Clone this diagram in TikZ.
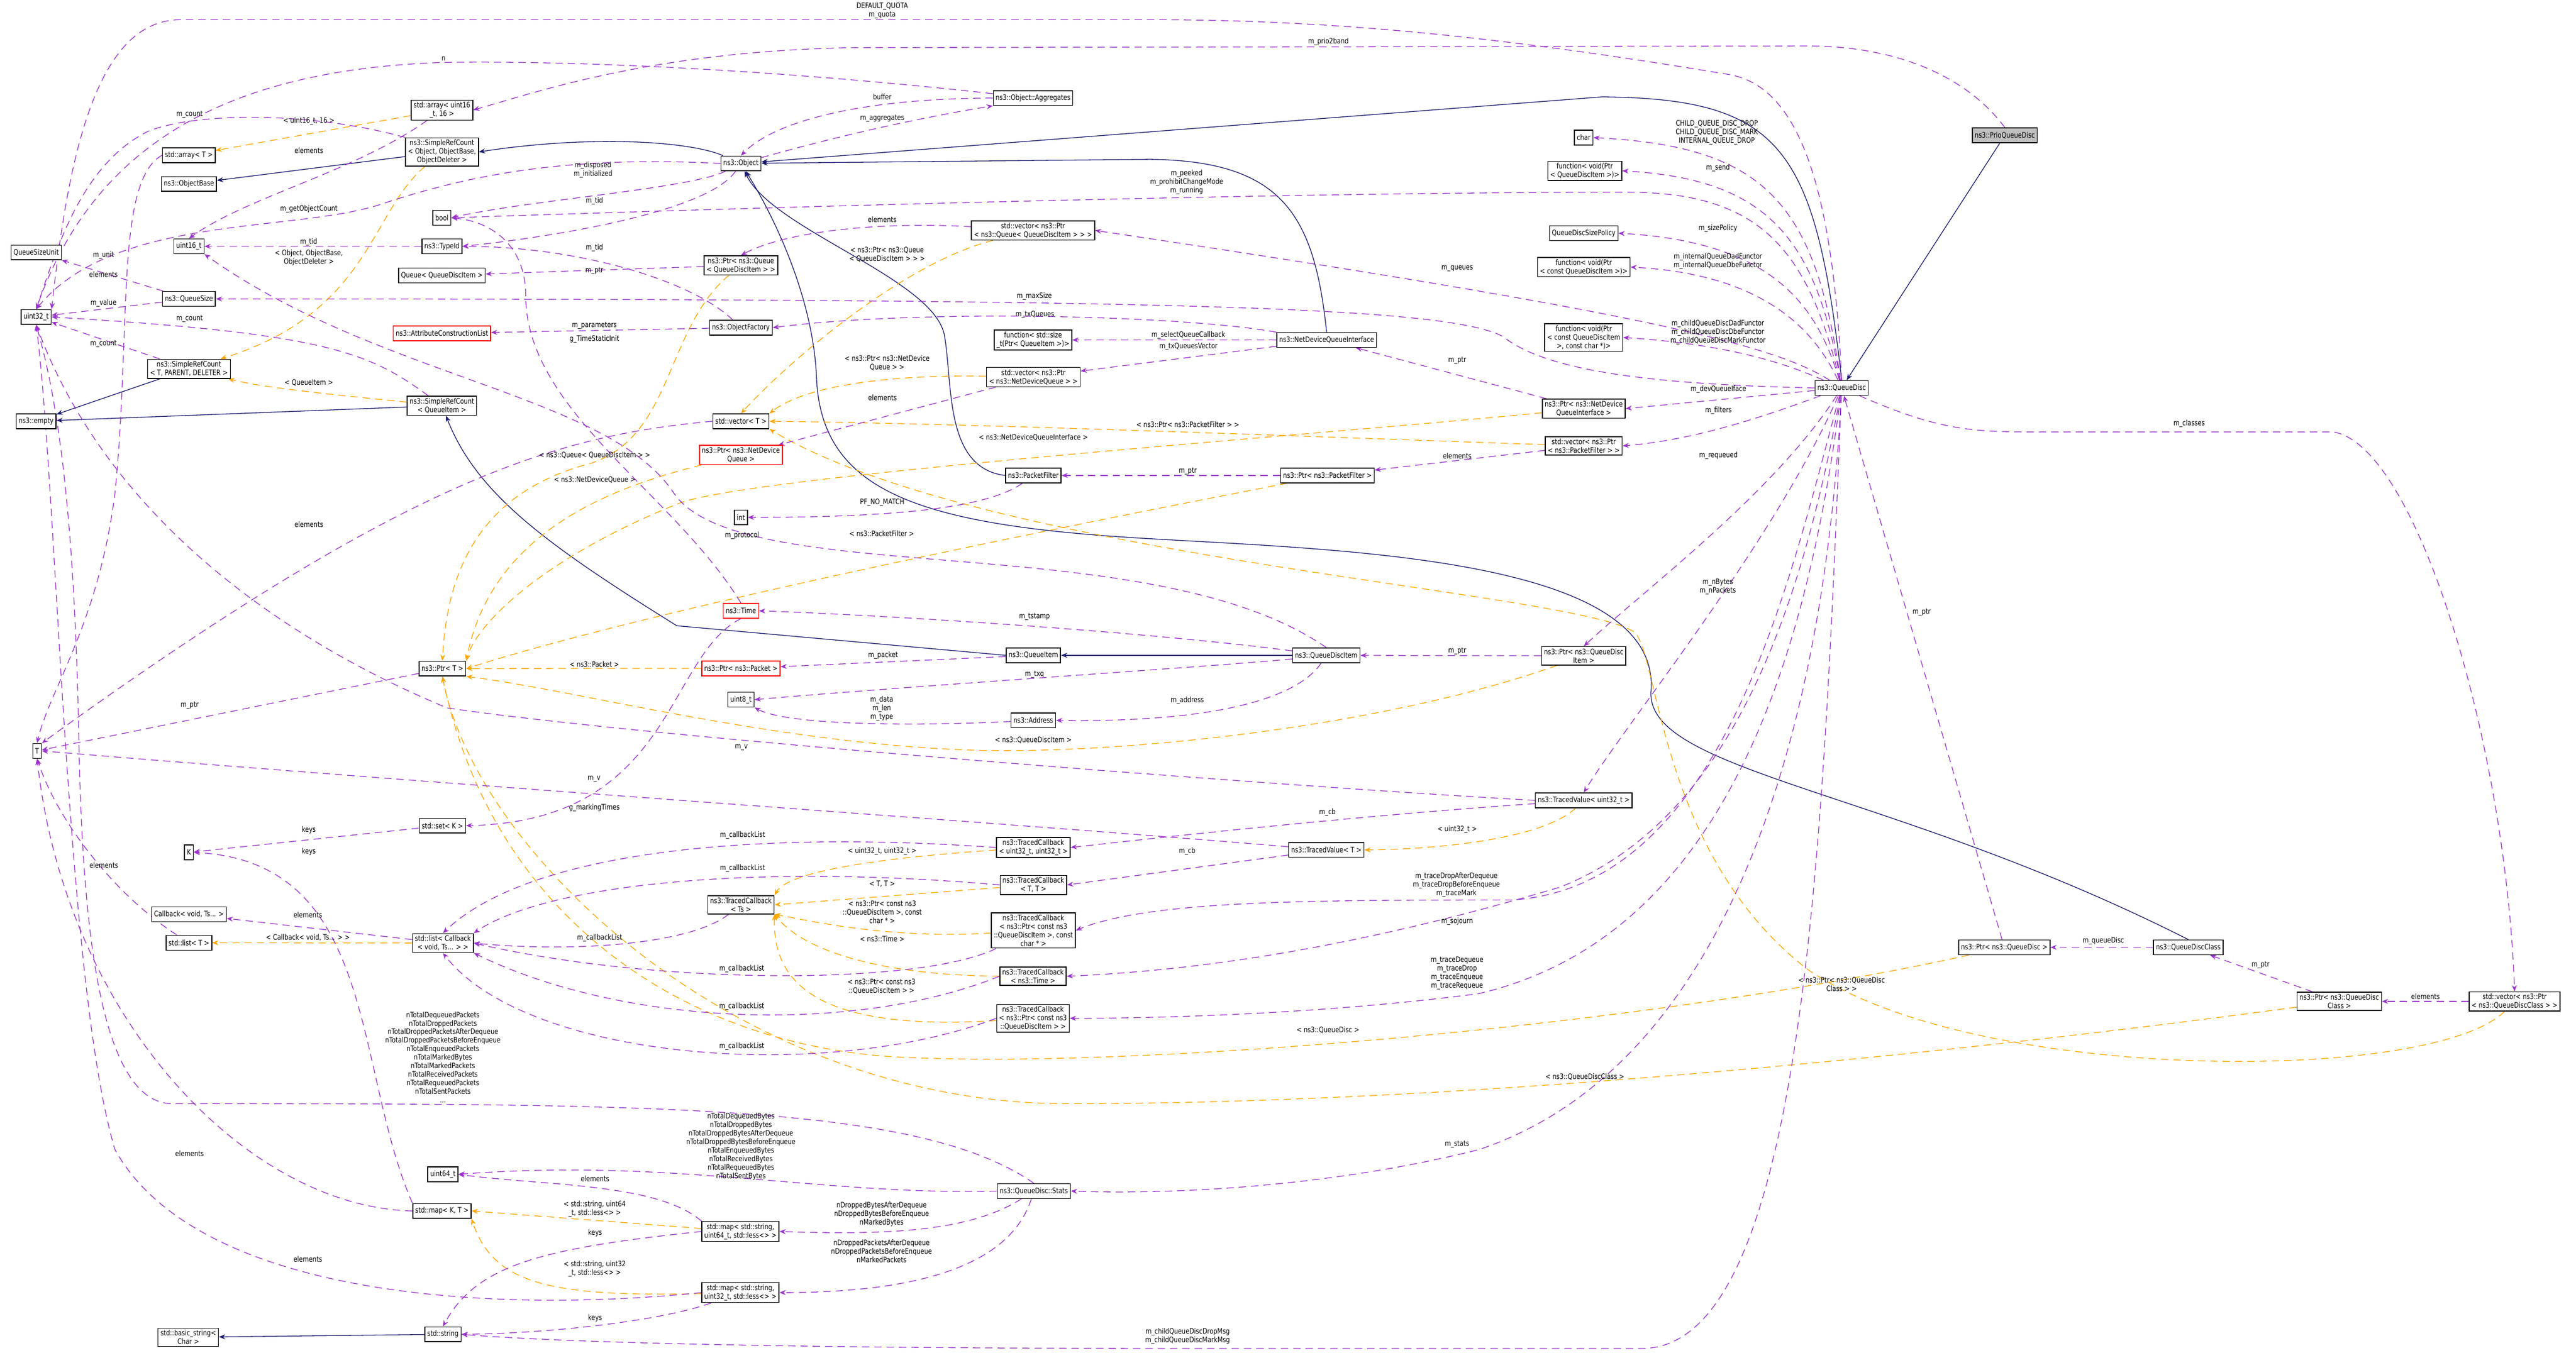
\documentclass[tikz,border=0pt]{standalone}
\usepackage{fontspec}
\setmainfont{DejaVu Sans}[FakeStretch=0.82]
\usetikzlibrary{arrows.meta}
\definecolor{use}{HTML}{9A32CD}
\definecolor{tpl}{HTML}{FFA500}
\definecolor{inh}{HTML}{191970}
\pgfdeclarelayer{edges}
\pgfsetlayers{edges,main}
\begin{document}
\begin{tikzpicture}[x=0.1cm,y=-0.1cm,
  every node/.style={font=\fontsize{13}{14.8}\selectfont},
  box/.style={draw=black,line width=0.05cm,fill=white,align=center,inner xsep=0.15cm,inner ysep=0.12cm,minimum height=0.9cm},
  redbox/.style={box,draw=red},
  lbl/.style={align=center,inner sep=0pt},
  usee/.style={draw=use,line width=0.045cm,dash pattern=on 0.45cm off 0.3cm,-{Stealth[length=0.38cm,width=0.3cm]}},
  tmpl/.style={draw=tpl,line width=0.045cm,dash pattern=on 0.45cm off 0.3cm,-{Stealth[length=0.38cm,width=0.3cm]}},
  inhe/.style={draw=inh,line width=0.045cm,-{Stealth[length=0.38cm,width=0.3cm]}}]
\useasboundingbox (0,0) rectangle (1568,823.5);
% ---------------- nodes
\node[box,fill={rgb,255:red,191;green,191;blue,191}] (prio) at (1220.3,82.4) {ns3::PrioQueueDisc};
\node[box] (qd) at (1121,236.2) {ns3::QueueDisc};
\node[box] (obj) at (451,99.5) {ns3::Object};
\node[box] (srco) at (269,92.5) {ns3::SimpleRefCount\\< Object, ObjectBase,\\ObjectDeleter >};
\node[box] (arr16) at (269,67) {std::array< uint16\\\_t, 16 >};
\node[box] (arrT) at (115,94.5) {std::array< T >};
\node[box] (objb) at (115,112) {ns3::ObjectBase};
\node[box] (agg) at (628.8,59.7) {ns3::Object::Aggregates};
\node[box] (bool) at (269,132.6) {bool};
\node[box] (u16) at (115,150) {uint16\_t};
\node[box] (tid) at (269,150) {ns3::TypeId};
\node[box] (qsu) at (22,153.7) {QueueSizeUnit};
\node[box] (qqdi) at (269,167.7) {Queue< QueueDiscItem >};
\node[box] (pq) at (451,161.5) {ns3::Ptr< ns3::Queue\\< QueueDiscItem > >};
\node[box] (qs) at (115,182) {ns3::QueueSize};
\node[box] (u32) at (22,193) {uint32\_t};
\node[box] (of) at (451,199.5) {ns3::ObjectFactory};
\node[redbox] (acl) at (269,203) {ns3::AttributeConstructionList};
\node[box] (srct) at (115,224.6) {ns3::SimpleRefCount\\< T, PARENT, DELETER >};
\node[box] (srcq) at (269,247) {ns3::SimpleRefCount\\< QueueItem >};
\node[box] (empty) at (22,256.5) {ns3::empty};
\node[box] (vecT) at (451,256.5) {std::vector< T >};
\node[redbox] (pndq) at (451,277) {ns3::Ptr< ns3::NetDevice\\Queue >};
\node[box] (int) at (451,315) {int};
\node[box] (pf) at (629,289.5) {ns3::PacketFilter};
\node[box] (ppf) at (808,289.5) {ns3::Ptr< ns3::PacketFilter >};
\node[box] (char) at (964,83.8) {char};
\node[box] (fsend) at (964.6,104) {function< void(Ptr\\< QueueDiscItem >)>};
\node[box] (vpq) at (628.8,140.3) {std::vector< ns3::Ptr\\< ns3::Queue< QueueDiscItem > > >};
\node[box] (qdsp) at (964,142) {QueueDiscSizePolicy};
\node[box] (fdad) at (964,162.6) {function< void(Ptr\\< const QueueDiscItem >)>};
\node[box] (fsize) at (628.8,207) {function< std::size\\\_t(Ptr< QueueItem >)>};
\node[box] (ndqi) at (807.5,207) {ns3::NetDeviceQueueInterface};
\node[box] (fchild) at (964,205.5) {function< void(Ptr\\< const QueueDiscItem\\>, const char *)>};
\node[box] (vndq) at (629,229.6) {std::vector< ns3::Ptr\\< ns3::NetDeviceQueue > >};
\node[box] (pndqi) at (964,248.8) {ns3::Ptr< ns3::NetDevice\\QueueInterface >};
\node[box] (vpf) at (964,271.5) {std::vector< ns3::Ptr\\< ns3::PacketFilter > >};
\node[redbox] (time) at (451,371.9) {ns3::Time};
\node[box] (qi) at (629,399) {ns3::QueueItem};
\node[box] (qdi) at (807.3,399) {ns3::QueueDiscItem};
\node[box] (pqdi) at (964,399.3) {ns3::Ptr< ns3::QueueDisc\\Item >};
\node[redbox] (ppkt) at (451,407) {ns3::Ptr< ns3::Packet >};
\node[box] (ptrT) at (269.3,407.1) {ns3::Ptr< T >};
\node[box] (u8) at (451,426) {uint8\_t};
\node[box] (addr) at (629,438.6) {ns3::Address};
\node[box] (T) at (22.6,457.2) {T};
\node[box] (tvu) at (964,487.3) {ns3::TracedValue< uint32\_t >};
\node[box] (setK) at (269.3,502.7) {std::set< K >};
\node[box] (tcu) at (629,516) {ns3::TracedCallback\\< uint32\_t, uint32\_t >};
\node[box] (tvT) at (807.3,517.5) {ns3::TracedValue< T >};
\node[box] (K) at (115,519) {K};
\node[box] (tcTT) at (629,538.8) {ns3::TracedCallback\\< T, T >};
\node[box] (tcTs) at (451,550.9) {ns3::TracedCallback\\< Ts >};
\node[box] (cb) at (115,556.6) {Callback< void, Ts... >};
\node[box] (tcpc) at (629,566.5) {ns3::TracedCallback\\< ns3::Ptr< const ns3\\::QueueDiscItem >, const\\char * >};
\node[box] (listT) at (115,574) {std::list< T >};
\node[box] (listcb) at (269.6,574.2) {std::list< Callback\\< void, Ts... > >};
\node[box] (pqd) at (1220,576.8) {ns3::Ptr< ns3::QueueDisc >};
\node[box] (qdc) at (1332,576.8) {ns3::QueueDiscClass};
\node[box] (tctime) at (628.8,594.4) {ns3::TracedCallback\\< ns3::Time >};
\node[box] (pqdc) at (1423.9,609.7) {ns3::Ptr< ns3::QueueDisc\\Class >};
\node[box] (vqdc) at (1530.6,609.7) {std::vector< ns3::Ptr\\< ns3::QueueDiscClass > >};
\node[box] (tcp) at (628.8,620) {ns3::TracedCallback\\< ns3::Ptr< const ns3\\::QueueDiscItem > >};
\node[box] (u64) at (269.6,715) {uint64\_t};
\node[box] (stats) at (629.3,725.2) {ns3::QueueDisc::Stats};
\node[box] (mapKT) at (269,737.3) {std::map< K, T >};
\node[box] (m64) at (450.7,749.8) {std::map< std::string,\\uint64\_t, std::less<> >};
\node[box] (m32) at (450.7,787) {std::map< std::string,\\uint32\_t, std::less<> >};
\node[box] (bstr) at (114.6,814.2) {std::basic\_string<\\Char >};
\node[box] (str) at (269.6,812.4) {std::string};
\begin{pgfonlayer}{edges}
% ---------------- inheritance
\draw[inhe] (prio) -- (qd);
\draw[inhe] (qd.north) .. controls (1105,90) and (1085,60) .. (975,59) -- (obj);
\draw[inhe] (ndqi.north) .. controls (800,130) and (780,98) .. (700,97) -- (obj);
\draw[inhe] (pf.west) .. controls (575,285) and (580,235) .. (575,205) .. controls (570,170) and (470,140) .. (obj);
\draw[inhe] (qdc.north) .. controls (1150,480) and (1000,470) .. (1005,420) .. controls (1010,340) and (820,335) .. (700,328) .. controls (560,320) and (500,300) .. (497,230) .. controls (495,180) and (470,130) .. (obj);
\draw[inhe] (qi.west) -- (412,381) .. controls (330,330) and (290,300) .. (srcq);
\draw[inhe] (qdi) -- (qi);
\draw[inhe] (srcq) -- (empty);
\draw[inhe] (srct) -- (empty);
\draw[inhe] (srco) -- (objb);
\draw[inhe] (obj) .. controls (420,86) and (360,82) .. (srco.east);
\draw[inhe] (str) -- (bstr);
% ---------------- template instantiation
\draw[tmpl] (arr16) -- (arrT);
\draw[tmpl] (srco) .. controls (225,130) and (225,190) .. (srct);
\draw[tmpl] (srcq) .. controls (200,240) and (160,236) .. (srct);
\draw[tmpl] (pq) .. controls (405,200) and (410,265) .. (360,282) .. controls (290,300) and (272,350) .. (ptrT.north);
\draw[tmpl] (pndq) .. controls (380,295) and (300,320) .. (ptrT.north east);
\draw[tmpl] (pndqi) .. controls (800,265) and (450,290) .. (412,307) .. controls (330,340) and (290,380) .. (ptrT.north east);
\draw[tmpl] (ppf) .. controls (650,320) and (400,370) .. (ptrT.east);
\draw[tmpl] (ppkt) -- (ptrT);
\draw[tmpl] (pqdi) .. controls (850,440) and (700,458) .. (603,457) .. controls (480,455) and (350,420) .. (ptrT.south east);
\draw[tmpl] (pqd) .. controls (1000,625) and (700,650) .. (556,644) .. controls (420,640) and (300,560) .. (ptrT.south);
\draw[tmpl] (pqdc) .. controls (1200,640) and (900,672) .. (650,672) .. controls (450,672) and (290,520) .. (ptrT.south);
\draw[tmpl] (vpq) .. controls (550,160) and (480,220) .. (vecT.north);
\draw[tmpl] (vndq) .. controls (540,228) and (490,235) .. (vecT.north east);
\draw[tmpl] (vpf) .. controls (800,266) and (600,258) .. (vecT.east);
\draw[tmpl] (vqdc) .. controls (1480,660) and (1200,660) .. (1100,590) .. controls (1010,520) and (1010,400) .. (995,385) .. controls (960,360) and (600,340) .. (vecT.south east);
\draw[tmpl] (tvu) .. controls (940,510) and (880,517) .. (tvT.east);
\draw[tmpl] (tcu) .. controls (540,522) and (480,530) .. (tcTs.north east);
\draw[tmpl] (tcTT) -- (tcTs.east);
\draw[tmpl] (tcpc) .. controls (540,572) and (490,560) .. (tcTs.south east);
\draw[tmpl] (tctime) .. controls (540,594) and (490,580) .. (tcTs.south east);
\draw[tmpl] (tcp) .. controls (500,628) and (470,600) .. (tcTs.south east);
\draw[tmpl] (listcb) -- (listT);
\draw[tmpl] (m64) -- (mapKT.east);
\draw[tmpl] (m32) .. controls (330,790) and (300,780) .. (mapKT.south east);
% ---------------- usage
\draw[usee] (qd) .. controls (1105,124) and (1075,89) .. (char.east);
\draw[usee] (qd) .. controls (1105,144) and (1075,109) .. (fsend.east);
\draw[usee] (qd) .. controls (1100,150) and (1070,117) .. (990,117) .. controls (800,117) and (500,125) .. (bool.east);
\draw[usee] (qd) .. controls (1105,182) and (1075,147) .. (qdsp.east);
\draw[usee] (qd) .. controls (1105,202) and (1075,167) .. (fdad.east);
\draw[usee] (qd) .. controls (1080,210) and (1000,190) .. (vpq.east);
\draw[usee] (qd.west) .. controls (1000,234) and (940,225) .. (915,205) .. controls (880,186) and (700,182) .. (qs.east);
\draw[usee] (qd) .. controls (1095,225) and (1060,210) .. (fchild.east);
\draw[usee] (qd) -- (pndqi.east);
\draw[usee] (qd) .. controls (1070,255) and (1030,268) .. (vpf.east);
\draw[usee] (qd) .. controls (1080,300) and (1000,360) .. (pqdi.north);
\draw[usee] (qd) .. controls (1080,330) and (990,440) .. (tvu.north);
\draw[usee] (pqd) -- (qd);
\draw[usee] (qd) .. controls (1180,262) and (1200,263) .. (1240,263) -- (1420,263) .. controls (1470,270) and (1525,450) .. (vqdc.north);
\draw[usee] (qd) .. controls (1090,350) and (1050,540) .. (920,548) .. controls (800,548) and (700,548) .. (tcpc.east);
\draw[usee] (qd) .. controls (1095,380) and (1050,500) .. (950,540) .. controls (850,570) and (750,590) .. (tctime.east);
\draw[usee] (qd) .. controls (1100,400) and (1050,570) .. (900,605) .. controls (800,618) and (700,620) .. (tcp.east);
\draw[usee] (qd) .. controls (1110,450) and (1050,650) .. (900,700) .. controls (800,725) and (700,727) .. (stats.east);
\draw[usee] (qd) .. controls (1110,500) and (1100,820) .. (1000,821) -- (720,821) .. controls (500,821) and (350,818) .. (str.east);
\draw[usee] (qd.north) .. controls (1115,100) and (1090,50) .. (1050,45) .. controls (900,20) and (800,12) .. (700,12) -- (110,12) .. controls (60,12) and (42,90) .. (u32.north east);
\draw[usee] (agg) .. controls (450,40) and (330,37) .. (270,38) .. controls (150,42) and (60,80) .. (u32.north);
\draw[usee] (prio.north) .. controls (1200,50) and (1160,28) .. (1100,28) -- (520,29) .. controls (400,31) and (330,55) .. (arr16.east);
\draw[usee] (obj) .. controls (520,80) and (570,70) .. (agg.south west);
\draw[usee] (agg.west) .. controls (520,60) and (470,75) .. (obj.north);
\draw[usee] (obj) .. controls (420,115) and (320,122) .. (bool.east);
\draw[usee] (obj) .. controls (430,130) and (330,145) .. (tid.east);
\draw[usee] (obj.west) .. controls (350,95) and (290,105) .. (233,124) .. controls (180,142) and (70,130) .. (u32.north);
\draw[usee] (tid) -- (u16);
\draw[usee] (arr16) .. controls (215,105) and (150,120) .. (u16.north);
\draw[usee] (of) .. controls (420,170) and (350,150) .. (tid.east);
\draw[usee] (pq) -- (qqdi);
\draw[usee] (of) -- (acl);
\draw[usee] (qs) -- (qsu);
\draw[usee] (qs) -- (u32);
\draw[usee] (srct) -- (u32);
\draw[usee] (srcq) .. controls (225,215) and (200,203) .. (u32.east);
\draw[usee] (srco.north west) .. controls (190,68) and (120,68) .. (90,80) .. controls (50,100) and (35,150) .. (u32.north);
\draw[usee] (time.north) .. controls (410,300) and (320,250) .. (320,180) .. controls (320,150) and (300,135) .. (bool.east);
\draw[usee] (time.south) .. controls (405,400) and (410,500) .. (setK.east);
\draw[usee] (qdi.north) .. controls (700,320) and (450,360) .. (410,300) .. controls (370,240) and (230,230) .. (u16.south east);
\draw[usee] (vndq) -- (pndq);
\draw[usee] (vpq) .. controls (540,135) and (480,140) .. (pq.north);
\draw[usee] (ndqi) -- (fsize);
\draw[usee] (ndqi) -- (vndq);
\draw[usee] (ndqi.north west) .. controls (720,192) and (560,188) .. (of.east);
\draw[usee] (pndqi) -- (ndqi);
\draw[usee] (ppf) -- (pf);
\draw[usee] (vpf) -- (ppf);
\draw[usee] (pf) .. controls (600,310) and (540,315) .. (int.east);
\draw[usee] (qdi) .. controls (700,385) and (550,375) .. (time.east);
\draw[usee] (qi) -- (ppkt);
\draw[usee] (qdi) .. controls (750,405) and (550,418) .. (u8.east);
\draw[usee] (addr) .. controls (560,442) and (480,442) .. (u8.south east);
\draw[usee] (qdi) .. controls (790,425) and (740,440) .. (addr.east);
\draw[usee] (pqdi) -- (qdi);
\draw[usee] (tvu.west) .. controls (800,480) and (400,450) .. (272,431) .. controls (150,380) and (60,300) .. (u32.south);
\draw[usee] (tvT) .. controls (600,500) and (300,480) .. (T.east);
\draw[usee] (tvu) .. controls (850,495) and (750,505) .. (tcu.east);
\draw[usee] (tvT) -- (tcTT.east);
\draw[usee] (ptrT) -- (T);
\draw[usee] (vecT.west) .. controls (340,265) and (250,290) .. (T.north east);
\draw[usee] (arrT.west) .. controls (70,110) and (80,200) .. (70,300) .. controls (60,380) and (30,420) .. (T.north);
\draw[usee] (listT) .. controls (70,545) and (35,500) .. (T.south);
\draw[usee] (mapKT.west) .. controls (150,735) and (40,620) .. (T.south);
\draw[usee] (setK) -- (K);
\draw[usee] (mapKT.north west) .. controls (215,650) and (230,525) .. (K.east);
\draw[usee] (tcu.west) .. controls (450,505) and (320,520) .. (listcb.north);
\draw[usee] (tcTT.west) .. controls (450,525) and (330,540) .. (listcb.north east);
\draw[usee] (tcTs) .. controls (420,575) and (350,580) .. (listcb.east);
\draw[usee] (tcpc) .. controls (560,600) and (400,600) .. (listcb.east);
\draw[usee] (tctime.west) .. controls (520,630) and (380,625) .. (listcb.south east);
\draw[usee] (tcp.west) .. controls (500,660) and (320,645) .. (listcb.south);
\draw[usee] (listcb) -- (cb);
\draw[usee] (stats.north) .. controls (560,672) and (400,672) .. (105,672) .. controls (60,672) and (50,560) .. (48,450) .. controls (46,350) and (40,260) .. (u32.south);
\draw[usee] (stats.west) .. controls (500,728) and (410,705) .. (u64.east);
\draw[usee] (stats) .. controls (590,750) and (540,752) .. (m64.east);
\draw[usee] (stats) .. controls (615,770) and (560,787) .. (m32.east);
\draw[usee] (m64.north west) .. controls (400,720) and (330,722) .. (u64.east);
\draw[usee] (m64.west) .. controls (330,760) and (290,770) .. (str.north);
\draw[usee] (m32) .. controls (400,805) and (330,812) .. (str.east);
\draw[usee] (m32.west) .. controls (300,800) and (120,790) .. (70,700) .. controls (40,600) and (35,300) .. (u32.south);
\draw[usee] (qdc) -- (pqd);
\draw[usee] (pqdc) -- (qdc);
\draw[usee] (vqdc) -- (pqdc);
\end{pgfonlayer}
% ---------------- labels
\node[lbl] (l1) at (188,73.8) {< uint16\_t, 16 >};
\node[lbl] (l2) at (188,157) {< Object, ObjectBase,\\ObjectDeleter >};
\node[lbl] (l3) at (188,233) {< QueueItem >};
\node[lbl] (l4) at (362,277) {< ns3::Queue< QueueDiscItem > >};
\node[lbl] (l5) at (362,292) {< ns3::NetDeviceQueue >};
\node[lbl] (l6) at (629,266.4) {< ns3::NetDeviceQueueInterface >};
\node[lbl] (l7) at (536.7,325) {< ns3::PacketFilter >};
\node[lbl] (l8) at (361.8,404.3) {< ns3::Packet >};
\node[lbl] (l9) at (629,450.6) {< ns3::QueueDiscItem >};
\node[lbl] (l10) at (808.3,627.3) {< ns3::QueueDisc >};
\node[lbl] (l11) at (964.7,655.6) {< ns3::QueueDiscClass >};
\node[lbl] (l12) at (540,155) {< ns3::Ptr< ns3::Queue\\< QueueDiscItem > > >};
\node[lbl] (l13) at (540,221) {< ns3::Ptr< ns3::NetDevice\\Queue > >};
\node[lbl] (l14) at (723,258.6) {< ns3::Ptr< ns3::PacketFilter > >};
\node[lbl] (l15) at (1121,599.2) {< ns3::Ptr< ns3::QueueDisc\\Class > >};
\node[lbl] (l16) at (887,505) {< uint32\_t >};
\node[lbl] (l17) at (537,518.2) {< uint32\_t, uint32\_t >};
\node[lbl] (l18) at (537,538.2) {< T, T >};
\node[lbl] (l19) at (537,555.5) {< ns3::Ptr< const ns3\\::QueueDiscItem >, const\\char * >};
\node[lbl] (l20) at (537,571.6) {< ns3::Time >};
\node[lbl] (l21) at (536.6,600.6) {< ns3::Ptr< const ns3\\::QueueDiscItem > >};
\node[lbl] (l22) at (187.4,571) {< Callback< void, Ts... > >};
\node[lbl] (l23) at (362,736) {< std::string, uint64\\\_t, std::less<> >};
\node[lbl] (l24) at (362,772.5) {< std::string, uint32\\\_t, std::less<> >};
\node[lbl] (lb1) at (1045,80.8) {CHILD\_QUEUE\_DISC\_DROP\\CHILD\_QUEUE\_DISC\_MARK\\INTERNAL\_QUEUE\_DROP};
\node[lbl] (lb2) at (1045.7,102.3) {m\_send};
\node[lbl] (lb3) at (722.3,111) {m\_peeked\\m\_prohibitChangeMode\\m\_running};
\node[lbl] (lb4) at (1045.7,138.9) {m\_sizePolicy};
\node[lbl] (lb5) at (1045.7,159) {m\_internalQueueDadFunctor\\m\_internalQueueDbeFunctor};
\node[lbl] (lb6) at (887,163.6) {m\_queues};
\node[lbl] (lb7) at (629.6,180.5) {m\_maxSize};
\node[lbl] (lb8) at (1045.7,202.3) {m\_childQueueDiscDadFunctor\\m\_childQueueDiscDbeFunctor\\m\_childQueueDiscMarkFunctor};
\node[lbl] (lb9) at (1046,237.2) {m\_devQueueIface};
\node[lbl] (lb10) at (1046,249.8) {m\_filters};
\node[lbl] (lb11) at (1046,277.5) {m\_requeued};
\node[lbl] (lb12) at (1045.6,357.4) {m\_nBytes\\m\_nPackets};
\node[lbl] (lb13) at (1169.7,372.8) {m\_ptr};
\node[lbl] (lb14) at (1332.5,258) {m\_classes};
\node[lbl] (lb15) at (886.5,538.8) {m\_traceDropAfterDequeue\\m\_traceDropBeforeEnqueue\\m\_traceMark};
\node[lbl] (lb16) at (886.9,561.1) {m\_sojourn};
\node[lbl] (lb17) at (886.9,592.5) {m\_traceDequeue\\m\_traceDrop\\m\_traceEnqueue\\m\_traceRequeue};
\node[lbl] (lb18) at (886.9,696.7) {m\_stats};
\node[lbl] (lb19) at (722.9,813.5) {m\_childQueueDiscDropMsg\\m\_childQueueDiscMarkMsg};
\node[lbl] (lb20) at (537,6.6) {DEFAULT\_QUOTA\\m\_quota};
\node[lbl] (lb21) at (270,35.6) {n};
\node[lbl] (lb22) at (808.6,25.3) {m\_prio2band};
\node[lbl] (lb23) at (537,72) {m\_aggregates};
\node[lbl] (lb24) at (537,59) {buffer};
\node[lbl] (lb25) at (361,103.4) {m\_disposed\\m\_initialized};
\node[lbl] (lb26) at (361.8,122.3) {m\_tid};
\node[lbl] (lb27) at (188,127.3) {m\_getObjectCount};
\node[lbl] (lb28) at (187.9,147.5) {m\_tid};
\node[lbl] (lb29) at (188,91.7) {elements};
\node[lbl] (lb30) at (361.8,151) {m\_tid};
\node[lbl] (lb31) at (361.8,165) {m\_ptr};
\node[lbl] (lb32) at (361.8,198.2) {m\_parameters};
\node[lbl] (lb33) at (63,155.5) {m\_unit};
\node[lbl] (lb34) at (63,184.7) {m\_value};
\node[lbl] (lb35) at (63,209.4) {m\_count};
\node[lbl] (lb36) at (115.4,194) {m\_count};
\node[lbl] (lb37) at (115.4,69.5) {m\_count};
\node[lbl] (lb38) at (361.8,206.5) {g\_TimeStaticInit};
\node[lbl] (lb39) at (361.8,491.7) {g\_markingTimes};
\node[lbl] (lb40) at (451.7,326.2) {m\_protocol};
\node[lbl] (lb41) at (537.2,242) {elements};
\node[lbl] (lb42) at (537,133.7) {elements};
\node[lbl] (lb43) at (723.4,204.1) {m\_selectQueueCallback};
\node[lbl] (lb44) at (723.4,211) {m\_txQueuesVector};
\node[lbl] (lb45) at (630,191.5) {m\_txQueues};
\node[lbl] (lb46) at (887,219.6) {m\_ptr};
\node[lbl] (lb47) at (723,286.8) {m\_ptr};
\node[lbl] (lb48) at (887,277.7) {elements};
\node[lbl] (lb49) at (537,306) {PF\_NO\_MATCH};
\node[lbl] (lb50) at (629.7,375.7) {m\_tstamp};
\node[lbl] (lb51) at (537.5,399) {m\_packet};
\node[lbl] (lb52) at (629.7,410.5) {m\_txq};
\node[lbl] (lb53) at (536.7,431.3) {m\_data\\m\_len\\m\_type};
\node[lbl] (lb54) at (722.7,426.4) {m\_address};
\node[lbl] (lb55) at (887,396.5) {m\_ptr};
\node[lbl] (lb56) at (451.3,455) {m\_v};
\node[lbl] (lb57) at (361.6,474.3) {m\_v};
\node[lbl] (lb58) at (808,494.7) {m\_cb};
\node[lbl] (lb59) at (722.6,518.2) {m\_cb};
\node[lbl] (lb60) at (115.4,429.4) {m\_ptr};
\node[lbl] (lb61) at (188,319.3) {elements};
\node[lbl] (lb62) at (63,167) {elements};
\node[lbl] (lb63) at (63.2,526.8) {elements};
\node[lbl] (lb64) at (115.4,702.2) {elements};
\node[lbl] (lb65) at (188,505.5) {keys};
\node[lbl] (lb66) at (188,518.6) {keys};
\node[lbl] (lb67) at (452,508.7) {m\_callbackList};
\node[lbl] (lb68) at (452,528.6) {m\_callbackList};
\node[lbl] (lb69) at (365,571) {m\_callbackList};
\node[lbl] (lb70) at (451.5,590) {m\_callbackList};
\node[lbl] (lb71) at (451.5,612.7) {m\_callbackList};
\node[lbl] (lb72) at (451.5,637) {m\_callbackList};
\node[lbl] (lb73) at (187.4,557.2) {elements};
\node[lbl] (lb74) at (269.6,643.7) {nTotalDequeuedPackets\\nTotalDroppedPackets\\nTotalDroppedPacketsAfterDequeue\\nTotalDroppedPacketsBeforeEnqueue\\nTotalEnqueuedPackets\\nTotalMarkedBytes\\nTotalMarkedPackets\\nTotalReceivedPackets\\nTotalRequeuedPackets\\nTotalSentPackets\\...};
\node[lbl] (lb75) at (451,698.2) {nTotalDequeuedBytes\\nTotalDroppedBytes\\nTotalDroppedBytesAfterDequeue\\nTotalDroppedBytesBeforeEnqueue\\nTotalEnqueuedBytes\\nTotalReceivedBytes\\nTotalRequeuedBytes\\nTotalSentBytes};
\node[lbl] (lb76) at (536.6,739.4) {nDroppedBytesAfterDequeue\\nDroppedBytesBeforeEnqueue\\nMarkedBytes};
\node[lbl] (lb77) at (536.6,761.8) {nDroppedPacketsAfterDequeue\\nDroppedPacketsBeforeEnqueue\\nMarkedPackets};
\node[lbl] (lb78) at (362.2,717.7) {elements};
\node[lbl] (lb79) at (362.2,750.6) {keys};
\node[lbl] (lb80) at (362.2,802.6) {keys};
\node[lbl] (lb81) at (187.4,766.8) {elements};
\node[lbl] (lb82) at (1280.3,572.9) {m\_queueDisc};
\node[lbl] (lb83) at (1376,587.5) {m\_ptr};
\node[lbl] (lb84) at (1476.4,606.8) {elements};
\end{tikzpicture}
\end{document}
